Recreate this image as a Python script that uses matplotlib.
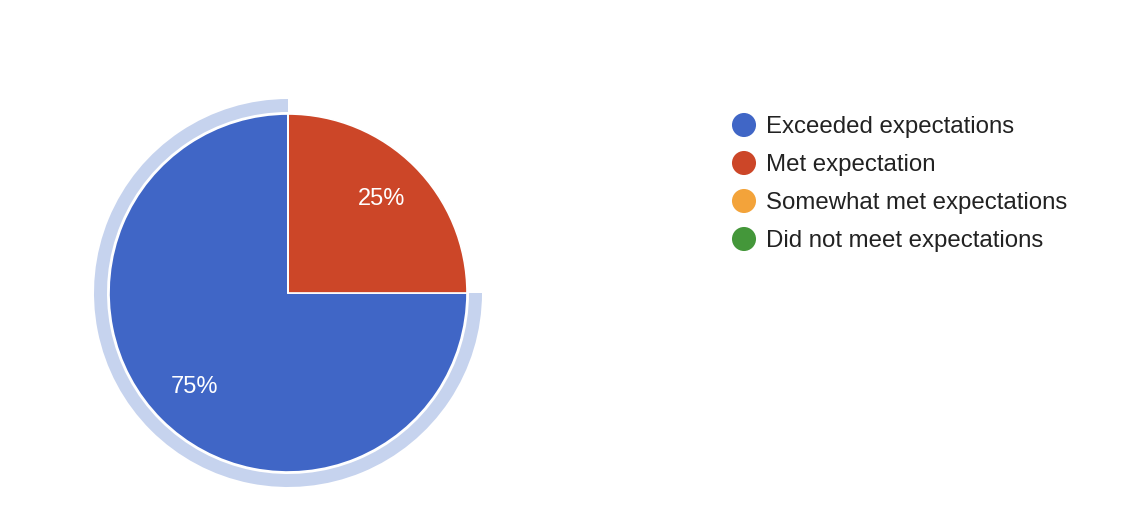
import matplotlib
matplotlib.use("Agg")
import matplotlib.pyplot as plt
from matplotlib.patches import Wedge

categories = ["Exceeded expectations", "Met expectation",
              "Somewhat met expectations", "Did not meet expectations"]
values = [75, 25, 0, 0]
colors = ["#4066c6", "#cc4628", "#f3a33a", "#44973a"]
highlight_color = "#c6d3ee"

W, H = 1128, 516
fig = plt.figure(figsize=(W / 100, H / 100), dpi=100)
ax = fig.add_axes([0, 0, 1, 1])

cx, cy = 288, H - 293
R = 179

def fmt(p):
    return f"{p:.0f}%" if p > 0 else ""

wedges, texts, autotexts = ax.pie(
    values, colors=colors, startangle=90, counterclock=True,
    center=(cx, cy), radius=R, autopct=fmt, pctdistance=0.74,
    wedgeprops=dict(edgecolor="white", linewidth=1.2),
    textprops=dict(color="white", fontsize=17, family="Liberation Sans"),
    frame=True,
)
ax.set_xlim(0, W)
ax.set_ylim(0, H)
ax.set_aspect("equal")
ax.axis("off")

# highlight ring around the first (selected) slice
total = sum(values)
theta1 = 90
theta2 = 90 + 360 * values[0] / total
ax.add_patch(Wedge((cx, cy), 194, theta1, theta2, width=13,
                   facecolor=highlight_color, edgecolor="none"))

# legend
lx, ly0, dy = 744, 125, 38
for i, (cat, col) in enumerate(zip(categories, colors)):
    y = H - (ly0 + i * dy)
    ax.scatter([lx], [y], s=300, color=col, edgecolors="none", zorder=5)
    ax.text(766, y - 8.5, cat, fontsize=17.3, family="Liberation Sans",
            color="#222222", va="baseline", ha="left")

fig.savefig("out.png", dpi=100, facecolor="white")
